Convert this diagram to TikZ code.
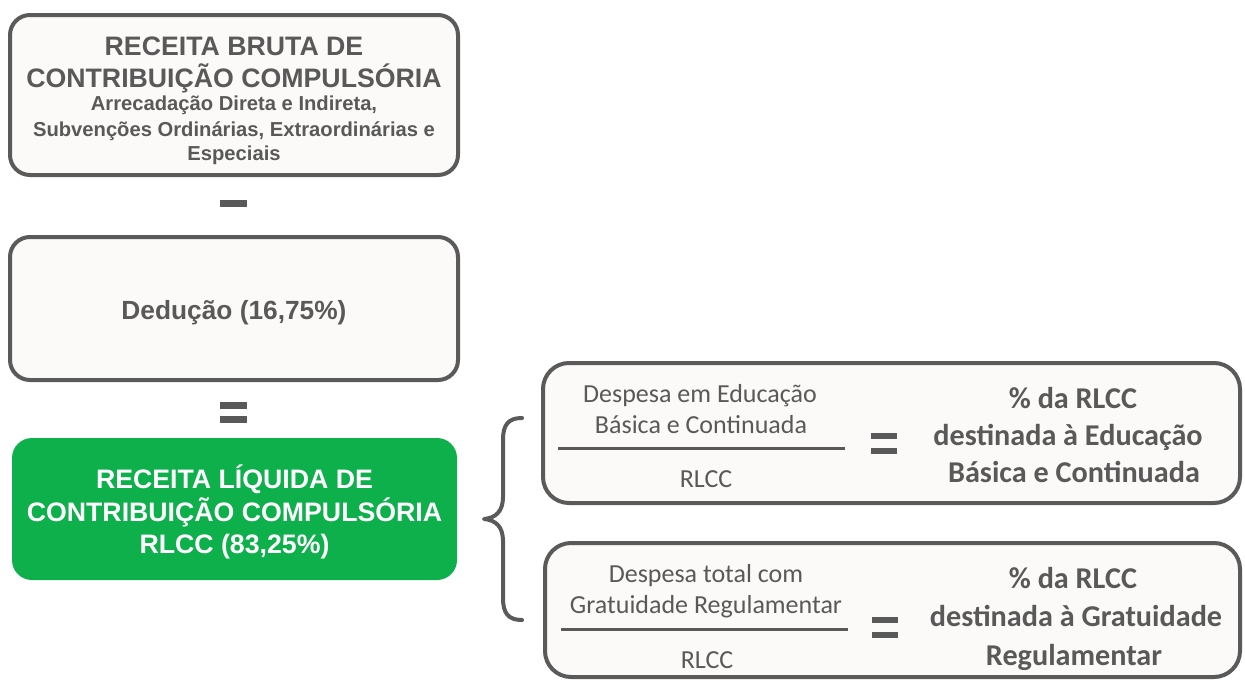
\documentclass[tikz,border=0pt]{standalone}
\usepackage{fontspec}
\setmainfont{Liberation Sans}
\newfontfamily\calibri{Carlito}
\definecolor{txt}{HTML}{595959}
\definecolor{bord}{HTML}{5A5A5A}
\definecolor{boxfill}{HTML}{FCFAF8}
\definecolor{verde}{HTML}{0DB04B}
\begin{document}
\begin{tikzpicture}[x=1pt,y=-1pt,
  box/.style={draw=bord, line width=4pt, fill=boxfill, rounded corners=20pt, inner sep=0pt},
  rbox/.style={box, rounded corners=26pt},
  gbox/.style={fill=verde, rounded corners=20pt, inner sep=0pt},
  bar/.style={fill=txt, inner sep=0pt, minimum width=27pt, minimum height=7pt},
  ebar/.style={bar, minimum width=26pt, minimum height=6pt},
  title/.style={anchor=base, inner sep=0pt, text=txt, font=\bfseries\fontsize{26.7}{32}\selectfont},
  sub/.style={anchor=base, inner sep=0pt, text=txt, font=\bfseries\fontsize{20.2}{24}\selectfont},
  gtxt/.style={title, text=white},
  frac/.style={anchor=base, inner sep=0pt, text=txt, font=\calibri\fontsize{26}{31}\selectfont},
  res/.style={anchor=base, inner sep=0pt, text=txt, font=\calibri\bfseries\fontsize{30.2}{36}\selectfont},
  fline/.style={draw=txt, line width=3pt},
  brace/.style={draw=bord, line width=4pt, line cap=round, line join=round}
]
\useasboundingbox (0,0) rectangle (1245,680);
\fill[white] (0,0) rectangle (1245,680);

% Box 1
\node[box, minimum width=448pt, minimum height=160pt] (bruta) at (234,95) {};
\node[title] (b1) at (234,55) {RECEITA BRUTA DE};
\node[title] (b2) at (234,87) {CONTRIBUIÇÃO COMPULSÓRIA};
\node[sub] (b3) at (234,110) {Arrecadação Direta e Indireta,};
\node[sub] (b4) at (234,136) {Subvenções Ordinárias, Extraordinárias e};
\node[sub] (b5) at (234,160) {Especiais};

% minus
\node[bar] (minus) at (233.5,203) {};

% Box 2
\node[box, minimum width=448pt, minimum height=143pt] (ded) at (234,308.5) {};
\node[title, font=\bfseries\fontsize{26.3}{32}\selectfont] (dtxt) at (234,319) {Dedução (16,75\%)};

% equals
\node[bar] (eq1) at (233.5,405) {};
\node[bar] (eq2) at (233.5,419) {};

% Green box
\node[gbox, minimum width=445pt, minimum height=142pt] (liq) at (234.5,509) {};
\node[gtxt] (g1) at (234.5,488) {RECEITA LÍQUIDA DE};
\node[gtxt] (g2) at (234.5,521) {CONTRIBUIÇÃO COMPULSÓRIA};
\node[gtxt] (g3) at (234.5,553) {RLCC (83,25\%)};

% Brace
\draw[brace] (522,418) .. controls (508,418) and (503,425) .. (503,440) -- (503,497)
  .. controls (503,511) and (496,518) .. (484,519)
  .. controls (496,520) and (503,527) .. (503,541) -- (503,598)
  .. controls (503,613) and (508,620) .. (522,620);

% Box A
\node[rbox, minimum width=697pt, minimum height=140pt] (boxA) at (891.5,433) {};
\node[frac] (a1) at (700,402) {Despesa em Educação};
\node[frac] (a2) at (701,433) {Básica e Continuada};
\draw[fline] (558,448) -- (845,448);
\node[frac] (a3) at (706,487) {RLCC};
\node[ebar] (aeq1) at (883.5,436) {};
\node[ebar] (aeq2) at (883.5,451) {};
\node[res] (ar1) at (1073,408) {\% da RLCC};
\node[res] (ar2) at (1068,445) {destinada à Educação};
\node[res] (ar3) at (1074,482) {Básica e Continuada};

% Box B
\node[rbox, minimum width=695pt, minimum height=134pt] (boxB) at (892.5,610) {};
\node[frac] (c1) at (706,582) {Despesa total com};
\node[frac] (c2) at (706,613) {Gratuidade Regulamentar};
\draw[fline] (561,629) -- (848,629);
\node[frac] (c3) at (707,668) {RLCC};
\node[ebar] (ceq1) at (885,620) {};
\node[ebar] (ceq2) at (885,635) {};
\node[res] (cr1) at (1073,588) {\% da RLCC};
\node[res] (cr2) at (1076,626) {destinada à Gratuidade};
\node[res] (cr3) at (1074,665) {Regulamentar};
\end{tikzpicture}
\end{document}
